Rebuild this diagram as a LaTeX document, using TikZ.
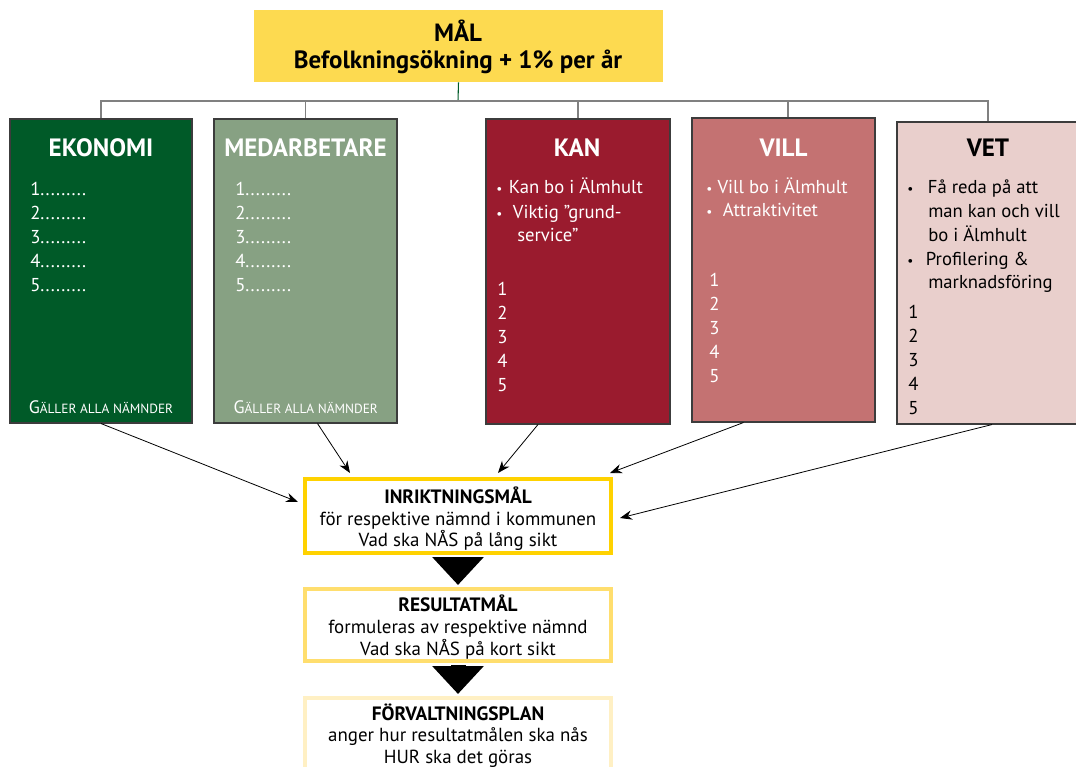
\documentclass[tikz,border=0pt]{standalone}
\usepackage{fontspec}
\setmainfont{PT Sans}
\usetikzlibrary{arrows.meta,positioning,fit,calc}

\definecolor{malgul}{HTML}{FDDA50}
\definecolor{ekogron}{HTML}{005A28}
\definecolor{medgron}{HTML}{87A183}
\definecolor{kanrod}{HTML}{9A1B2E}
\definecolor{villrod}{HTML}{C47272}
\definecolor{vetrosa}{HTML}{E9CFCC}
\definecolor{inriktgul}{HTML}{FFD200}
\definecolor{resgul}{HTML}{FFDE6E}
\definecolor{forvgul}{HTML}{FFF0C4}
\definecolor{kant}{HTML}{3C3C3C}
\definecolor{tradgra}{HTML}{808080}

\newcommand{\bul}[1]{\makebox[#1][l]{\fontsize{10}{12}\selectfont\textbullet}}
\newcommand{\galler}{{\fontsize{13.5}{16}\selectfont G}{\fontsize{10}{12}\selectfont ÄLLER ALLA NÄMNDER}}

\tikzset{
  box/.style={draw=kant, line width=0.8pt, inner sep=0pt},
  rubrik/.style={anchor=base, inner sep=0pt, font=\bfseries\fontsize{18.8}{20}\selectfont},
  punkt/.style={anchor=base west, inner sep=0pt, font=\fontsize{14}{16}\selectfont},
  malbox/.style={fill=white, line width=3pt, inner sep=0pt},
  maltext/.style={anchor=base, inner sep=0pt, font=\fontsize{14.2}{15}\selectfont},
  malrubrik/.style={maltext, font=\bfseries\fontsize{14.5}{15}\selectfont},
  pil/.style={draw=black, line width=0.6pt, -{Stealth[length=9pt,width=7pt]}},
  blockpil/.style={draw=black, line width=11.25pt, -{Triangle[length=21pt,width=37.5pt]}},
  trad/.style={draw=tradgra, line width=0.8pt}
}

\begin{document}
\begin{tikzpicture}[x=0.75pt, y=-0.75pt]
	\clip (0,0) rectangle (1076,767);

	% top goal
	\node[fill=malgul, inner sep=0pt, fit={(254,10) (663,82)}] (mal) {};
	\node[anchor=base, inner sep=0pt, font=\bfseries\fontsize{18.7}{20}\selectfont] (mal-1) at (458,41.7) {MÅL};
	\node[anchor=base, inner sep=0pt, font=\bfseries\fontsize{18.7}{20}\selectfont] (mal-2) at (458,68.3) {Befolkningsökning + 1\% per år};

	% the five columns
	\node[box, fill=ekogron, fit={(10,119) (192,423)}] (ekonomi) {};
	\node[box, fill=medgron, fit={(214,119) (397,423)}] (medarb) {};
	\node[box, fill=kanrod, fit={(486,119) (670,424)}] (kan) {};
	\node[box, fill=villrod, fit={(692,118) (875,422)}] (vill) {};
	\node[box, fill=vetrosa, fit={(897,122) (1079,424)}] (vet) {};

	\coordinate (hub) at (458,101);
	\draw[draw=ekogron, line width=0.8pt] (mal.south) -- (hub);
	\draw[trad] (ekonomi.north) |- (hub) -| (vet.north);
	\draw[trad] (medarb.north) -- (medarb.north |- hub);
	\draw[trad] (kan.north) -- (kan.north |- hub);
	\draw[trad] ($(vill.north)+(4.5,0)$) -- ($(vill.north |- hub)+(4.5,0)$);

	\begin{scope}[every node/.append style={text=white}]
	    \node[rubrik] (ekonomi-t) at (101,156.7) {EKONOMI};
	    \node[rubrik] (medarb-t) at (305.5,156.7) {MEDARBETARE};
	    \node[rubrik] (kan-t) at (577,156.7) {KAN};
	    \node[rubrik] (vill-t) at (783.5,156.7) {VILL};
	    \foreach \i/\y in {1/195.3,2/219.3,3/243.3,4/267.3,5/291.3} {
	        \node[punkt] (eko-\i) at (30,\y) {\i.........};
	        \node[punkt] (med-\i) at (235,\y) {\i.........};
	    }
	    \node[punkt] (eko-g) at (28.5,413.3) {\galler};
	    \node[punkt] (med-g) at (233.3,413.3) {\galler};

	    \node[punkt] (kan-a) at (496,194) {\bul{9.5pt}Kan bo i Älmhult};
	    \node[punkt] (kan-b) at (496,218.3) {\bul{12.5pt}Viktig ”grund-};
	    \node[punkt] (kan-c) at (517,241.5) {service”};
	    \foreach \i/\y in {1/295,2/319,3/343,4/367,5/391}
	        \node[punkt] (kan-\i) at (497,\y) {\i};

	    \node[punkt] (vill-a) at (706,193.3) {\bul{8.5pt}Vill bo i Älmhult};
	    \node[punkt] (vill-b) at (706,216.7) {\bul{12.5pt}Attraktivitet};
	    \foreach \i/\y in {1/286,2/310,3/334,4/358,5/382}
	        \node[punkt] (vill-\i) at (709,\y) {\i};
	\end{scope}

	\node[rubrik] (vet-t) at (988,156.7) {VET};
	\node[punkt] (vet-a) at (907,194) {\bul{15.5pt}Få reda på att};
	\node[punkt] (vet-b) at (928,217.5) {man kan och vill};
	\node[punkt] (vet-c) at (928,241) {bo i Älmhult};
	\node[punkt] (vet-d) at (907,265) {\bul{14pt}Profilering \&};
	\node[punkt] (vet-e) at (928,288.5) {marknadsföring};
	\foreach \i/\y in {1/318.3,2/342.3,3/366.3,4/390.3,5/414.3}
	    \node[punkt] (vet-\i) at (908,\y) {\i};

	% goal chain
	\node[malbox, draw=inriktgul, fit={(305,479) (611,553)}] (inrikt) {};
	\node[malbox, draw=resgul, fit={(305,589) (611,661)}] (result) {};
	\node[malbox, draw=forvgul, fit={(305,698) (611,774)}] (forvalt) {};

	\node[malrubrik] (inrikt-1) at (458,503.3) {INRIKTNINGSMÅL};
	\node[maltext] (inrikt-2) at (458,525) {för respektive nämnd i kommunen};
	\node[maltext] (inrikt-3) at (458,546.7) {Vad ska NÅS på lång sikt};
	\node[malrubrik] (result-1) at (458,611.7) {RESULTATMÅL};
	\node[maltext] (result-2) at (458,633.3) {formuleras av respektive nämnd};
	\node[maltext] (result-3) at (458,655) {Vad ska NÅS på kort sikt};
	\node[malrubrik] (forvalt-1) at (458,720.7) {FÖRVALTNINGSPLAN};
	\node[maltext] (forvalt-2) at (458,741.7) {anger hur resultatmålen ska nås};
	\node[maltext] (forvalt-3) at (458,763.3) {HUR ska det göras};

	\draw[blockpil] ($(inrikt.south)+(0,2)$) -- ($(result.north)+(0,-2)$);
	\draw[blockpil] ($(result.south)+(0,2)$) -- ($(forvalt.north)+(0,-2)$);

	\draw[pil] (ekonomi.south) -- ($(inrikt.west)+(-5,-14)$);
	\draw[pil] ($(medarb.south)+(12,0)$) -- ($(inrikt.north)+(-108,-4)$);
	\draw[pil] ($(kan.south)+(-40,0)$) -- ($(inrikt.north)+(40,-4)$);
	\draw[pil] ($(vill.south)+(-40,0)$) -- ($(inrikt.north east)+(-3,-4)$);
	\draw[pil] ($(vet.south)+(4,0)$) -- ($(inrikt.east)+(7,2)$);
\end{tikzpicture}
\end{document}
